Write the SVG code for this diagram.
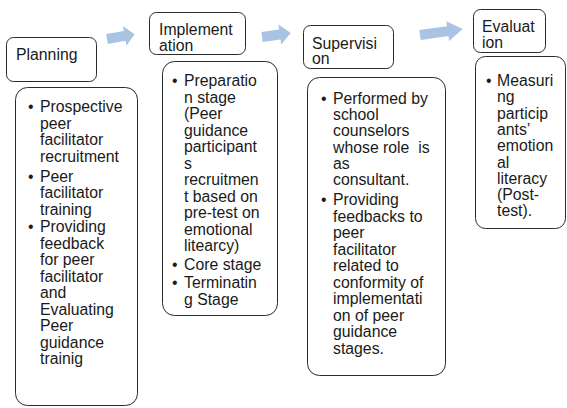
<svg xmlns="http://www.w3.org/2000/svg" width="567" height="408" viewBox="0 0 567 408">
  <style>
    .box { fill: #ffffff; stroke: #2b2b2b; stroke-width: 1; }
    .txt { font-family: "Liberation Sans", Arial, sans-serif; font-size: 15.8px; fill: #1a1a1a; }
    .arrow { fill: #a9c3e3; stroke: none; }
  </style>
  <rect width="567" height="408" fill="#ffffff"/>

  <!-- block arrows between the stage headers -->
  <g id="connectors">
    <path class="arrow" d="M0,-5 L18,-5 L18,-10 L28,0 L18,10 L18,5 L0,5 Z" transform="translate(107,39) rotate(-10)"/>
    <path class="arrow" d="M0,-5 L18,-5 L18,-10 L29,0 L18,10 L18,5 L0,5 Z" transform="translate(262,37) rotate(-8)"/>
    <path class="arrow" d="M0,-5 L28,-5 L28,-10 L43,0 L28,10 L28,5 L0,5 Z" transform="translate(420,35) rotate(-8)"/>
  </g>

  <!-- Planning -->
  <g id="planning">
    <rect class="box" x="6.5" y="37.5" width="90" height="44" rx="7"/>
    <text class="txt" x="16" y="60">Planning</text>
  </g>
  <g id="planning-detail">
    <rect class="box" x="15.5" y="87.5" width="122" height="318" rx="12"/>
    <text class="txt" x="28" y="112">•</text>
    <text class="txt" x="28" y="181.5">•</text>
    <text class="txt" x="28" y="232">•</text>
    <text class="txt">
      <tspan x="40" y="112">Prospective</tspan>
      <tspan x="40" y="128.5">peer</tspan>
      <tspan x="40" y="145">facilitator</tspan>
      <tspan x="40" y="161.5">recruitment</tspan>
      <tspan x="40" y="181.5">Peer</tspan>
      <tspan x="40" y="198">facilitator</tspan>
      <tspan x="40" y="214.5">training</tspan>
      <tspan x="40" y="232">Providing</tspan>
      <tspan x="40" y="248.5">feedback</tspan>
      <tspan x="40" y="265">for peer</tspan>
      <tspan x="40" y="281.5">facilitator</tspan>
      <tspan x="40" y="298">and</tspan>
      <tspan x="40" y="314.5">Evaluating</tspan>
      <tspan x="40" y="331">Peer</tspan>
      <tspan x="40" y="347.5">guidance</tspan>
      <tspan x="40" y="364">trainig</tspan>
    </text>
  </g>

  <!-- Implementation -->
  <g id="implementation">
    <rect class="box" x="149.5" y="12.5" width="96" height="42" rx="7"/>
    <text class="txt">
      <tspan x="159" y="35">Implement</tspan>
      <tspan x="159" y="50.5">ation</tspan>
    </text>
  </g>
  <g id="implementation-detail">
    <rect class="box" x="162.5" y="61.5" width="115" height="254" rx="12"/>
    <text class="txt" x="172" y="86">•</text>
    <text class="txt" x="172" y="270">•</text>
    <text class="txt" x="172" y="288">•</text>
    <text class="txt">
      <tspan x="184" y="86">Preparatio</tspan>
      <tspan x="184" y="102.5">n stage</tspan>
      <tspan x="184" y="119">(Peer</tspan>
      <tspan x="184" y="135.5">guidance</tspan>
      <tspan x="184" y="152">participant</tspan>
      <tspan x="184" y="168.5">s</tspan>
      <tspan x="184" y="185">recruitmen</tspan>
      <tspan x="184" y="201.5">t based on</tspan>
      <tspan x="184" y="218">pre-test on</tspan>
      <tspan x="184" y="234.5">emotional</tspan>
      <tspan x="184" y="251">litearcy)</tspan>
      <tspan x="184" y="270">Core stage</tspan>
      <tspan x="184" y="288">Terminatin</tspan>
      <tspan x="184" y="304.5">g Stage</tspan>
    </text>
  </g>

  <!-- Supervision -->
  <g id="supervision">
    <rect class="box" x="303.5" y="25.5" width="90" height="43" rx="7"/>
    <text class="txt">
      <tspan x="312" y="48.5">Supervisi</tspan>
      <tspan x="312" y="64">on</tspan>
    </text>
  </g>
  <g id="supervision-detail">
    <rect class="box" x="307.5" y="77.5" width="138" height="298" rx="12"/>
    <text class="txt" x="321" y="103.5">•</text>
    <text class="txt" x="321" y="205">•</text>
    <text class="txt" xml:space="preserve"><tspan x="333" y="103.5">Performed by</tspan><tspan x="333" y="120">school</tspan><tspan x="333" y="136">counselors</tspan><tspan x="333" y="152.5">whose role  is</tspan><tspan x="333" y="168.5">as</tspan><tspan x="333" y="185">consultant.</tspan><tspan x="333" y="205">Providing</tspan><tspan x="333" y="221.5">feedbacks to</tspan><tspan x="333" y="238">peer</tspan><tspan x="333" y="254.5">facilitator</tspan><tspan x="333" y="271">related to</tspan><tspan x="333" y="287.5">conformity of</tspan><tspan x="333" y="304">implementati</tspan><tspan x="333" y="320.5">on of peer</tspan><tspan x="333" y="337">guidance</tspan><tspan x="333" y="353.5">stages.</tspan></text>
  </g>

  <!-- Evaluation -->
  <g id="evaluation">
    <rect class="box" x="473.5" y="9.5" width="72" height="43" rx="7"/>
    <text class="txt">
      <tspan x="482" y="32">Evaluat</tspan>
      <tspan x="482" y="48">ion</tspan>
    </text>
  </g>
  <g id="evaluation-detail">
    <rect class="box" x="475.5" y="56.5" width="90" height="172" rx="10"/>
    <text class="txt" x="486" y="86">•</text>
    <text class="txt">
      <tspan x="497" y="86">Measuri</tspan>
      <tspan x="497" y="102">ng</tspan>
      <tspan x="497" y="118.5">particip</tspan>
      <tspan x="497" y="135">ants’</tspan>
      <tspan x="497" y="151">emotion</tspan>
      <tspan x="497" y="167.5">al</tspan>
      <tspan x="497" y="183.5">literacy</tspan>
      <tspan x="497" y="200">(Post-</tspan>
      <tspan x="497" y="216">test).</tspan>
    </text>
  </g>
</svg>
